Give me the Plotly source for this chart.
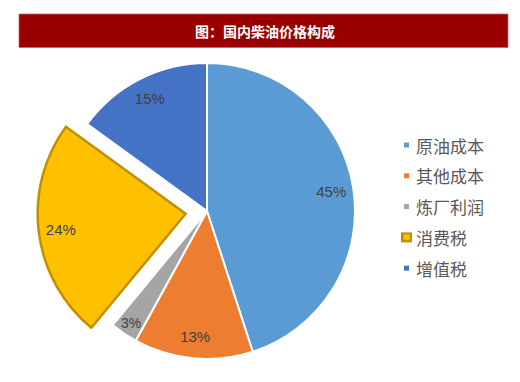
import plotly.graph_objects as go

title_text = "图：国内柴油价格构成"
labels = ["原油成本", "其他成本", "炼厂利润", "消费税", "增值税"]
values = [45, 13, 3, 24, 15]
colors = ["#5B9BD5", "#ED7D31", "#A5A5A5", "#FFC000", "#4472C4"]
pulls = [0, 0, 0, 0.145, 0]
line_colors = ["#FFFFFF", "#FFFFFF", "#FFFFFF", "#BF9000", "#FFFFFF"]
line_widths = [2, 2, 2, 2.5, 2]

W, H = 520, 382
dom = dict(x=[0.0721, 0.7240], y=[0.0039, 0.8914])

fig = go.Figure()
# Slices
fig.add_trace(go.Pie(
    labels=labels, values=values, sort=False, direction="clockwise", rotation=0,
    pull=pulls,
    marker=dict(colors=colors, line=dict(color=line_colors, width=line_widths)),
    textinfo="none",
    domain=dom, showlegend=False, hoverinfo="label+percent",
))
# Data labels (ring overlay so labels sit toward the outer edge)
fig.add_trace(go.Pie(
    labels=labels, values=values, sort=False, direction="clockwise", rotation=0,
    pull=pulls, hole=0.7,
    marker=dict(colors=["rgba(0,0,0,0)"] * len(values), line=dict(width=0)),
    textinfo="percent", textposition="inside", insidetextorientation="horizontal",
    textfont=dict(family="Liberation Sans, Arial, sans-serif", size=15, color="#404040"),
    domain=dom, showlegend=False, hoverinfo="skip",
))

shapes = []
annotations = []

# Title bar
shapes.append(dict(type="rect", xref="paper", yref="paper",
                   x0=19 / W, x1=508 / W, y0=1 - 47.5 / H, y1=1 - 14 / H,
                   fillcolor="#990000", line=dict(color="#C86464", width=0.8), layer="below"))
annotations.append(dict(text="<b>" + title_text + "</b>", xref="paper", yref="paper",
                        x=265 / W, y=1 - 31 / H, showarrow=False, xanchor="center", yanchor="middle",
                        font=dict(family="Noto Sans CJK SC", size=14, color="#FFFFFF")))

# Custom legend
leg_y0 = 145
leg_dy = 30.8
selected = 3
for i, (lab, col) in enumerate(zip(labels, colors)):
    yc = leg_y0 + i * leg_dy
    if i == selected:
        shapes.append(dict(type="rect", xref="paper", yref="paper",
                           x0=401 / W, x1=412 / W, y0=1 - (yc + 5) / H, y1=1 - (yc - 5) / H,
                           fillcolor="#BF9000", line=dict(width=0)))
        shapes.append(dict(type="rect", xref="paper", yref="paper",
                           x0=403.5 / W, x1=409.5 / W, y0=1 - (yc + 2.5) / H, y1=1 - (yc - 3.0) / H,
                           fillcolor=col, line=dict(width=0)))
    else:
        shapes.append(dict(type="rect", xref="paper", yref="paper",
                           x0=404 / W, x1=409 / W, y0=1 - (yc + 2.5) / H, y1=1 - (yc - 2.5) / H,
                           fillcolor=col, line=dict(width=0)))
    annotations.append(dict(text=lab, xref="paper", yref="paper",
                            x=414 / W, y=1 - yc / H, showarrow=False, xanchor="left", yanchor="middle",
                            font=dict(family="Noto Sans CJK SC", size=17, color="#595959")))

fig.update_layout(
    width=W, height=H,
    margin=dict(l=0, r=0, t=0, b=0),
    paper_bgcolor="#FFFFFF",
    plot_bgcolor="#FFFFFF",
    shapes=shapes,
    annotations=annotations,
    showlegend=False,
)

fig.write_html("out.html", config={"displayModeBar": False},
               post_script="document.body.style.margin='0';document.body.style.padding='0';")
